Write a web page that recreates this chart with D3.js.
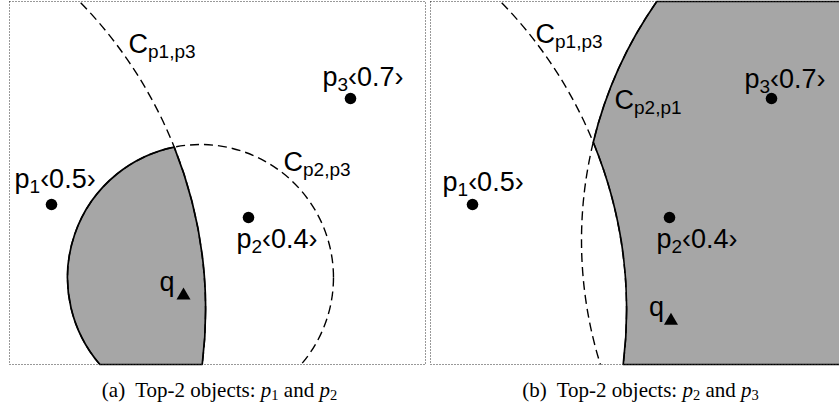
<!DOCTYPE html>
<html>
<head>
<meta charset="utf-8">
<script src="https://cdn.jsdelivr.net/npm/d3@7"></script>
<style>
  html, body { margin: 0; padding: 0; background: #fff; }
  svg { display: block; }
</style>
</head>
<body>
<script>
// ---- Data (diagram units: each panel is 100 units wide, y measured upward) ----
const panelIds = ["a", "b"];
const captionObjects = [["1", "2"], ["2", "3"]];

const objectNames  = ["1", "2", "3"];
const objectScores = ["0.5", "0.4", "0.7"];
const objectX = [10.10, 57.45, 81.97];
const objectY = [38.46, 35.34, 63.94];

// query location in each panel
const queryX = [41.83, 57.81];
const queryY = [16.59, 10.50];

// bounding circles C_{pi,pj}
const circleNames = ["p1,p3", "p2,p3", "p2,p1"];
const circleX = [-59.13, 45.91, 136.54];
const circleY = [12.98, 20.91, 29.81];
const circleR = [106.25, 31.97, 100.24];

// circles drawn in each panel
const panelCircles = [[0, 1], [0, 2]];

// ---- Layout ----
const W = 839, H = 411;
const panelLeft = [9.5, 430.5], panelTop = 1.5;
const panelW = 416, panelH = 363;
const unitsWide = 100, unitsHigh = panelH * unitsWide / panelW;

const x = d3.scaleLinear().domain([0, unitsWide]).range([0, panelW]);
const y = d3.scaleLinear().domain([0, unitsHigh]).range([panelH, 0]);
const rpx = r => x(r) - x(0);

const labelFont = "'Liberation Sans', Arial, Helvetica, sans-serif";
const captionFont = "'Liberation Serif', 'Times New Roman', Times, serif";
const fsMain = 27, fsSub = 19, subShift = 5;

// label offsets from each object point, per panel (pixels)
const objectLabelOffset = [
  [[-37, -17], [-12, 31], [-28, -13]],
  [[-30, -14], [-13, 31], [-27, -11]]
];
const queryLabelOffset = [[-24, -4], [-22, -5]];
// circle label placements, per panel (pixels inside the panel)
const circleLabelPos = [
  [[119, 51], [274, 169]],
  [[105, 41], [184, 107]]
];

const svg = d3.select("body").append("svg")
  .attr("width", W).attr("height", H)
  .attr("viewBox", `0 0 ${W} ${H}`);
svg.append("rect").attr("width", W).attr("height", H).attr("fill", "#fff");

function circ(i) {
  return { cx: x(circleX[i]), cy: y(circleY[i]), r: rpx(circleR[i]) };
}
function intersect(c1, c2) {
  const dx = c2.cx - c1.cx, dy = c2.cy - c1.cy;
  const d = Math.hypot(dx, dy);
  const a = (c1.r * c1.r - c2.r * c2.r + d * d) / (2 * d);
  const h = Math.sqrt(Math.max(0, c1.r * c1.r - a * a));
  const mx = c1.cx + a * dx / d, my = c1.cy + a * dy / d;
  const p1 = [mx + h * dy / d, my - h * dx / d];
  const p2 = [mx - h * dy / d, my + h * dx / d];
  return p1[1] < p2[1] ? p1 : p2; // upper crossing
}
function ang(c, p) { return Math.atan2(p[1] - c.cy, p[0] - c.cx); }
function rowX(c, yy, side) {
  return c.cx + side * Math.sqrt(c.r * c.r - (yy - c.cy) ** 2);
}

// shaded region of panel (a): inside C_{p2,p3} and inside C_{p1,p3}
function regionA() {
  const c13 = circ(0), c23 = circ(1);
  const I = intersect(c13, c23);
  const A = [rowX(c23, panelH, -1), panelH];
  const B = [rowX(c13, panelH, 1), panelH];
  const p = d3.path();
  p.moveTo(I[0], I[1]);
  p.arc(c23.cx, c23.cy, c23.r, ang(c23, I), ang(c23, A), true);
  p.lineTo(B[0], B[1]);
  p.arc(c13.cx, c13.cy, c13.r, ang(c13, B), ang(c13, I), true);
  p.closePath();
  return p.toString();
}
// shaded region of panel (b): inside C_{p2,p1} and outside C_{p1,p3}
function regionB() {
  const c13 = circ(0), c21 = circ(2);
  const I = intersect(c13, c21);
  const T = [rowX(c21, 0, -1), 0];
  const B = [rowX(c13, panelH, 1), panelH];
  const p = d3.path();
  p.moveTo(T[0], T[1]);
  p.arc(c21.cx, c21.cy, c21.r, ang(c21, T), ang(c21, I), true);
  p.arc(c13.cx, c13.cy, c13.r, ang(c13, I), ang(c13, B), false);
  p.lineTo(panelW, panelH);
  p.lineTo(panelW, 0);
  p.closePath();
  return p.toString();
}
const regions = [regionA, regionB];

panelIds.forEach((id, pi) => {
  const g = svg.append("g").attr("transform", `translate(${panelLeft[pi]},${panelTop})`);

  g.append("clipPath").attr("id", "clip-" + id)
    .append("rect").attr("width", panelW).attr("height", panelH);

  // shaded region
  g.append("path")
    .attr("d", regions[pi]())
    .attr("fill", "#a6a6a6")
    .attr("stroke", "#000")
    .attr("stroke-width", 1.7)
    .attr("stroke-linejoin", "round");

  // dashed circles
  g.append("g").attr("clip-path", `url(#clip-${id})`)
    .selectAll("circle").data(panelCircles[pi]).join("circle")
    .attr("cx", i => x(circleX[i]))
    .attr("cy", i => y(circleY[i]))
    .attr("r", i => rpx(circleR[i]))
    .attr("fill", "none")
    .attr("stroke", "#000")
    .attr("stroke-width", 1.4)
    .attr("stroke-dasharray", "9,5");

  // dotted frame
  g.append("rect")
    .attr("width", panelW).attr("height", panelH)
    .attr("fill", "none")
    .attr("stroke", "#333")
    .attr("stroke-width", 1)
    .attr("stroke-dasharray", "1,2");

  // objects
  g.selectAll("circle.obj").data(objectX).join("circle")
    .attr("class", "obj")
    .attr("cx", (d, i) => x(objectX[i]))
    .attr("cy", (d, i) => y(objectY[i]))
    .attr("r", 5.8)
    .attr("fill", "#000");

  // query
  g.append("path")
    .attr("d", d3.symbol(d3.symbolTriangle, 85)())
    .attr("transform", `translate(${x(queryX[pi])},${y(queryY[pi])})`)
    .attr("fill", "#000");

  // object labels
  objectNames.forEach((name, i) => {
    const [dx, dy] = objectLabelOffset[pi][i];
    const t = g.append("text")
      .attr("x", x(objectX[i]) + dx)
      .attr("y", y(objectY[i]) + dy)
      .attr("font-family", labelFont)
      .attr("font-size", fsMain)
      .attr("fill", "#000");
    t.append("tspan").text("p");
    t.append("tspan").attr("font-size", fsSub).attr("dy", subShift).text(name);
    t.append("tspan").attr("dy", -subShift).text("\u2039" + objectScores[i] + "\u203A");
  });

  // query label
  g.append("text")
    .attr("x", x(queryX[pi]) + queryLabelOffset[pi][0])
    .attr("y", y(queryY[pi]) + queryLabelOffset[pi][1])
    .attr("font-family", labelFont)
    .attr("font-size", fsMain)
    .attr("fill", "#000")
    .text("q");

  // circle labels
  panelCircles[pi].forEach((ci, k) => {
    const [lx, ly] = circleLabelPos[pi][k];
    const t = g.append("text")
      .attr("x", lx).attr("y", ly)
      .attr("font-family", labelFont)
      .attr("font-size", fsMain)
      .attr("fill", "#000");
    t.append("tspan").text("C");
    t.append("tspan").attr("font-size", fsSub).attr("dy", subShift).text(circleNames[ci]);
  });

  // caption
  const cap = svg.append("text")
    .attr("x", panelLeft[pi] + panelW / 2 + 2)
    .attr("y", 397)
    .attr("text-anchor", "middle")
    .attr("font-family", captionFont)
    .attr("font-size", 21)
    .attr("fill", "#000");
  cap.append("tspan").text(`(${id})`);
  cap.append("tspan").attr("dx", 10).text("Top-2 objects: ");
  cap.append("tspan").attr("font-style", "italic").text("p");
  cap.append("tspan").attr("font-size", 14.5).attr("dy", 3).text(captionObjects[pi][0]);
  cap.append("tspan").attr("dy", -3).text(" and ");
  cap.append("tspan").attr("font-style", "italic").text("p");
  cap.append("tspan").attr("font-size", 14.5).attr("dy", 3).text(captionObjects[pi][1]);
});
</script>
</body>
</html>
